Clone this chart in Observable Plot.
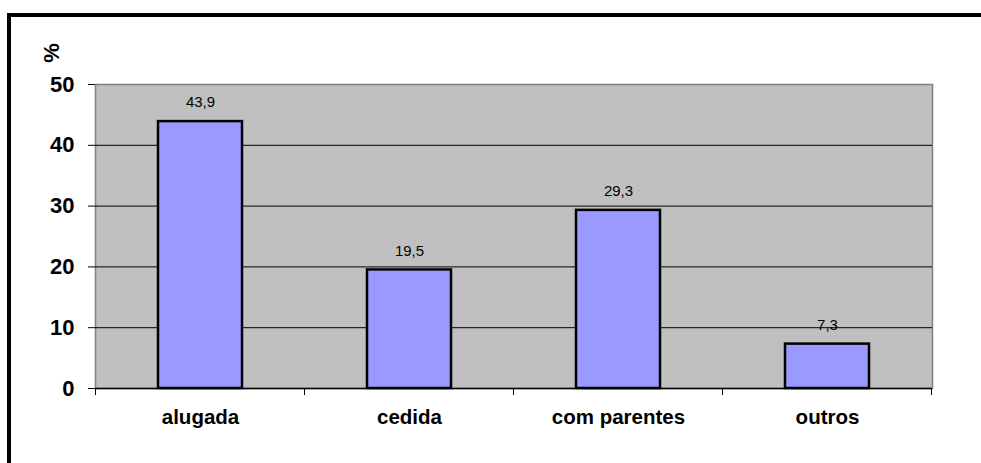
<!DOCTYPE html>
<html>
<head>
<meta charset="utf-8">
<script src="https://cdn.jsdelivr.net/npm/d3@7"></script>
<script src="https://cdn.jsdelivr.net/npm/@observablehq/plot@0.6"></script>
<style>
  html, body { margin: 0; padding: 0; background: #fff; }
  #chart { position: relative; width: 981px; height: 463px; overflow: hidden; }
  #chart .edge { position: absolute; left: 7px; top: 13px; right: 0; bottom: 0;
    border-top: 4px solid #000; border-left: 4px solid #000; pointer-events: none; }
  #chart svg { position: absolute; left: 0; top: 0; }
</style>
</head>
<body>
<div id="chart"></div>
<script>
// Tipo de moradia (%)
const categories = ["alugada", "cedida", "com parentes", "outros"];
const values = [43.9, 19.5, 29.3, 7.3];
const yTicks = [0, 10, 20, 30, 40, 50];
const gridValues = [10, 20, 30, 40];
const yUnit = "%";

const data = categories.map((c, i) => ({categoria: c, valor: values[i]}));
const fmt = v => v.toFixed(1).replace(".", ",");
const font = "Arial, 'Liberation Sans', sans-serif";
const marginLeft = 95;

const plot = Plot.plot({
  width: 981,
  height: 463,
  marginLeft,
  marginRight: 49,
  marginTop: 84,
  marginBottom: 75,
  style: {background: "transparent", fontFamily: font, color: "#000"},
  x: {domain: categories, paddingInner: 0.6, paddingOuter: 0.3, label: null},
  y: {domain: [0, 50], label: null},
  marks: [
    Plot.frame({fill: "#c0c0c0", stroke: "#808080", strokeWidth: 1.5}),
    Plot.ruleY(gridValues, {stroke: "#000", strokeWidth: 1}),
    Plot.barY(data, {x: "categoria", y: "valor", fill: "#9999ff", stroke: "#000", strokeWidth: 2.5}),
    Plot.text(data, {x: "categoria", y: "valor", text: d => fmt(d.valor), dy: -19,
      fontSize: 15, fill: "#000"}),
    Plot.ruleY([0], {stroke: "#000", strokeWidth: 1.5}),
    Plot.axisY({ticks: yTicks, tickSize: 7, tickPadding: 14, fontSize: 22, fontWeight: "bold",
      stroke: "#000", tickFormat: d => String(d)}),
    Plot.axisX({tickSize: 0, tickPadding: 21, fontSize: 20.5, fontWeight: "bold"})
  ]
});

const xs = plot.scale("x");
const ys = plot.scale("y");
const svg = d3.select(plot);

// category boundary ticks below the baseline
const step = xs.step;
const bw = xs.bandwidth;
const bounds = categories.map(c => xs.apply(c) + bw / 2 - step / 2);
bounds.push(xs.apply(categories[categories.length - 1]) + bw / 2 + step / 2);
const y0 = ys.apply(0);
svg.append("g")
  .attr("stroke", "#000")
  .attr("stroke-width", 1)
  .selectAll("line")
  .data(bounds)
  .join("line")
  .attr("x1", d => d).attr("x2", d => d)
  .attr("y1", y0).attr("y2", y0 + 7);

// rotated unit label above the y axis
const yTop = ys.apply(yTicks[yTicks.length - 1]);
svg.append("text")
  .attr("transform", `translate(${marginLeft - 44},${yTop - 31}) rotate(-90)`)
  .attr("text-anchor", "middle")
  .attr("dominant-baseline", "central")
  .attr("font-family", font)
  .attr("font-size", 22)
  .attr("font-weight", "bold")
  .attr("fill", "#000")
  .text(yUnit);

const chart = document.getElementById("chart");
chart.appendChild(plot);
const edge = document.createElement("div");
edge.className = "edge";
chart.appendChild(edge);
</script>
</body>
</html>
